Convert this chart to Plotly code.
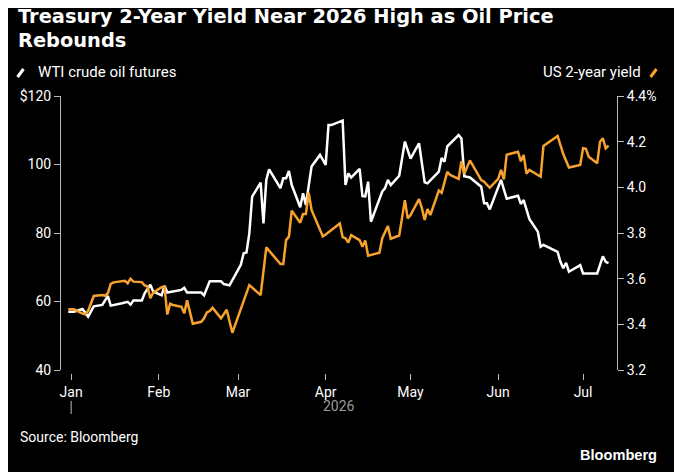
import plotly.graph_objects as go

# WTI crude oil futures, $/bbl
oil_dates = [
    "2025-12-31", "2026-01-02", "2026-01-05", "2026-01-07", "2026-01-09", "2026-01-12",
    "2026-01-14", "2026-01-15", "2026-01-19", "2026-01-21", "2026-01-22", "2026-01-23",
    "2026-01-26", "2026-01-27", "2026-01-29", "2026-01-30", "2026-02-02", "2026-02-03",
    "2026-02-04", "2026-02-09", "2026-02-10", "2026-02-11", "2026-02-16", "2026-02-17",
    "2026-02-19", "2026-02-23", "2026-02-24", "2026-02-26", "2026-03-02", "2026-03-03",
    "2026-03-04", "2026-03-05", "2026-03-06", "2026-03-09", "2026-03-10", "2026-03-11",
    "2026-03-12", "2026-03-16", "2026-03-17", "2026-03-18", "2026-03-19", "2026-03-20",
    "2026-03-23", "2026-03-24", "2026-03-25", "2026-03-27", "2026-03-30", "2026-04-01",
    "2026-04-02", "2026-04-03", "2026-04-07", "2026-04-08", "2026-04-09", "2026-04-10",
    "2026-04-13", "2026-04-14", "2026-04-15", "2026-04-16", "2026-04-17", "2026-04-21",
    "2026-04-22", "2026-04-23", "2026-04-24", "2026-04-27", "2026-04-29", "2026-05-01",
    "2026-05-04", "2026-05-06", "2026-05-07", "2026-05-11", "2026-05-12", "2026-05-13",
    "2026-05-14", "2026-05-18", "2026-05-19", "2026-05-20", "2026-05-22", "2026-05-26",
    "2026-05-27", "2026-05-28", "2026-05-29", "2026-06-02", "2026-06-04", "2026-06-08",
    "2026-06-09", "2026-06-10", "2026-06-12", "2026-06-15", "2026-06-16", "2026-06-17",
    "2026-06-22", "2026-06-23", "2026-06-24", "2026-06-25", "2026-06-26", "2026-06-30",
    "2026-07-01", "2026-07-06", "2026-07-08", "2026-07-09", "2026-07-10",
]
oil = [
    57.0, 57.0, 57.8, 55.6, 58.6, 59.0,
    61.6, 58.8, 59.5, 59.9, 59.1, 60.3,
    60.3, 62.4, 64.9, 62.9, 61.8, 64.6,
    62.6, 63.4, 64.0, 62.6, 62.6, 61.8,
    65.9, 65.9, 65.1, 64.7, 70.7, 74.1,
    74.3, 79.9, 90.6, 94.7, 82.8, 95.5,
    98.6, 93.1, 96.0, 96.0, 98.1, 94.0,
    87.5, 91.6, 88.2, 99.4, 102.8, 99.9,
    111.5, 111.5, 112.8, 94.0, 97.4, 96.2,
    98.7, 90.8, 90.7, 95.0, 83.3, 92.1,
    93.1, 95.5, 94.0, 96.7, 106.7, 101.7,
    106.2, 94.8, 94.5, 97.9, 101.9, 100.8,
    105.3, 108.6, 107.6, 96.6, 96.2, 93.5,
    88.7, 88.7, 86.9, 95.5, 90.0, 90.9,
    88.5, 89.6, 84.1, 80.4, 76.0, 76.5,
    74.5, 71.6, 69.7, 71.3, 68.7, 70.6,
    68.2, 68.2, 73.2, 71.6, 71.2,
]

# US 2-year Treasury yield, %
yield_dates = [
    "2025-12-31", "2026-01-02", "2026-01-05", "2026-01-06", "2026-01-07", "2026-01-09",
    "2026-01-12", "2026-01-13", "2026-01-14", "2026-01-15", "2026-01-16", "2026-01-19",
    "2026-01-20", "2026-01-21", "2026-01-22", "2026-01-23", "2026-01-26", "2026-01-27",
    "2026-01-28", "2026-01-29", "2026-01-30", "2026-02-02", "2026-02-03", "2026-02-04",
    "2026-02-05", "2026-02-06", "2026-02-09", "2026-02-10", "2026-02-11", "2026-02-13",
    "2026-02-16", "2026-02-17", "2026-02-18", "2026-02-19", "2026-02-20", "2026-02-23",
    "2026-02-25", "2026-02-27", "2026-03-05", "2026-03-09", "2026-03-11", "2026-03-16",
    "2026-03-17", "2026-03-18", "2026-03-19", "2026-03-20", "2026-03-23", "2026-03-24",
    "2026-03-25", "2026-03-26", "2026-03-27", "2026-03-31", "2026-04-01", "2026-04-06",
    "2026-04-07", "2026-04-08", "2026-04-09", "2026-04-10", "2026-04-13", "2026-04-14",
    "2026-04-15", "2026-04-16", "2026-04-20", "2026-04-21", "2026-04-23", "2026-04-24",
    "2026-04-27", "2026-04-29", "2026-04-30", "2026-05-01", "2026-05-04", "2026-05-05",
    "2026-05-06", "2026-05-07", "2026-05-08", "2026-05-11", "2026-05-12", "2026-05-14",
    "2026-05-15", "2026-05-18", "2026-05-19", "2026-05-20", "2026-05-22", "2026-05-26",
    "2026-05-27", "2026-05-29", "2026-06-01", "2026-06-02", "2026-06-03", "2026-06-04",
    "2026-06-08", "2026-06-09", "2026-06-10", "2026-06-11", "2026-06-12", "2026-06-15",
    "2026-06-16", "2026-06-17", "2026-06-22", "2026-06-24", "2026-06-26", "2026-06-30",
    "2026-07-01", "2026-07-02", "2026-07-03", "2026-07-06", "2026-07-07", "2026-07-08",
    "2026-07-09", "2026-07-10",
]
us2y = [
    3.466, 3.466, 3.447, 3.444, 3.459, 3.524,
    3.528, 3.525, 3.536, 3.577, 3.584, 3.588,
    3.591, 3.580, 3.600, 3.587, 3.585, 3.570,
    3.566, 3.514, 3.539, 3.563, 3.566, 3.443,
    3.490, 3.485, 3.477, 3.448, 3.505, 3.403,
    3.411, 3.426, 3.452, 3.458, 3.473, 3.426,
    3.464, 3.363, 3.572, 3.528, 3.737, 3.664,
    3.664, 3.769, 3.784, 3.898, 3.845, 3.883,
    3.883, 3.977, 3.901, 3.785, 3.793, 3.842,
    3.782, 3.777, 3.758, 3.791, 3.769, 3.740,
    3.767, 3.701, 3.714, 3.777, 3.831, 3.775,
    3.789, 3.944, 3.864, 3.879, 3.948, 3.909,
    3.857, 3.905, 3.879, 3.986, 3.976, 4.068,
    4.054, 4.037, 4.115, 4.059, 4.118, 4.032,
    4.025, 3.998, 4.037, 4.077, 4.035, 4.143,
    4.156, 4.114, 4.142, 4.060, 4.076, 4.054,
    4.047, 4.181, 4.225, 4.146, 4.087, 4.098,
    4.171, 4.169, 4.134, 4.105, 4.200, 4.215,
    4.171, 4.183,
]

oil_ticks = [40, 60, 80, 100, 120]
oil_labels = ["40", "60", "80", "100", "$120"]
yield_ticks = [3.2, 3.4, 3.6, 3.8, 4.0, 4.2, 4.4]
yield_labels = ["3.2", "3.4", "3.6", "3.8", "4.0", "4.2", "4.4%"]

title_lines = ["Treasury 2-Year Yield Near 2026 High as Oil Price", "Rebounds"]

ORANGE = "#f7a12e"
NARROW = "Roboto, sans-serif"
TITLE_FONT = "DejaVu Sans, Verdana, sans-serif"

# the page body keeps an 8px margin, so the figure is 8px smaller than the window
W, H = 674, 464

fig = go.Figure()
fig.add_trace(go.Scatter(x=oil_dates, y=oil, mode="lines", name="WTI crude oil futures",
                         line=dict(color="white", width=2.5), yaxis="y"))
fig.add_trace(go.Scatter(x=yield_dates, y=us2y, mode="lines", name="US 2-year yield",
                         line=dict(color=ORANGE, width=2.5), yaxis="y2"))

fig.update_layout(
    width=W, height=H,
    paper_bgcolor="black", plot_bgcolor="black",
    margin=dict(l=46, r=65, t=88, b=99),
    showlegend=False,
    font=dict(family=NARROW, size=14, color="white"),
    xaxis=dict(type="date", range=["2025-12-28 10:00", "2026-07-13"],
               tick0="2026-01-01", dtick="M1", tickformat="%b",
               ticks="outside", ticklen=6, tickcolor="#bbbbbb", showline=False,
               showgrid=False, zeroline=False, anchor="free", position=0,
               tickfont=dict(family=NARROW, size=14, color="white")),
    yaxis=dict(range=[40, 120], tickvals=oil_ticks, ticktext=oil_labels,
               domain=[0.0108, 1], ticks="outside", ticklen=6, tickcolor="#bbbbbb",
               showline=True, linecolor="#bbbbbb", linewidth=1,
               showgrid=False, zeroline=False,
               tickfont=dict(family=NARROW, size=14, color="white")),
    yaxis2=dict(range=[3.2, 4.4], tickvals=yield_ticks, ticktext=yield_labels,
                overlaying="y", side="right", ticks="outside", ticklen=6,
                tickcolor="#bbbbbb", showline=True, linecolor="#bbbbbb", linewidth=1,
                showgrid=False, zeroline=False,
                tickfont=dict(family=NARROW, size=14, color="white")),
)

# title, one annotation per line
for i, line in enumerate(title_lines):
    fig.add_annotation(text="<b>" + line + "</b>", xref="paper", yref="paper",
                       x=(8 - 54) / 563, y=(373 - 17 - 23 * i) / 277,
                       xanchor="left", yanchor="middle", showarrow=False,
                       font=dict(family=TITLE_FONT, size=19.4, color="white"))

# legend-like labels
fig.add_annotation(text="WTI crude oil futures", xref="paper", yref="paper",
                   x=-0.0444, y=1.0866, xanchor="left", yanchor="middle", showarrow=False,
                   font=dict(family=NARROW, size=15, color="white"))
fig.add_annotation(text="US 2-year yield", xref="paper", yref="paper",
                   x=1.0462, y=1.0866, xanchor="right", yanchor="middle", showarrow=False,
                   font=dict(family=NARROW, size=15, color="white"))
fig.add_shape(type="line", xref="paper", yref="paper",
              x0=(10 - 54) / 563, x1=(16 - 54) / 563, y0=(373 - 77) / 277, y1=(373 - 69) / 277,
              line=dict(color="white", width=3))
fig.add_shape(type="line", xref="paper", yref="paper",
              x0=(651 - 54) / 563, x1=(657 - 54) / 563, y0=(373 - 77) / 277, y1=(373 - 69) / 277,
              line=dict(color=ORANGE, width=3))

# year label and its tick
fig.add_annotation(text="2026", xref="paper", yref="paper", x=0.5, y=-0.119,
                   xanchor="center", yanchor="middle", showarrow=False,
                   font=dict(family=NARROW, size=14, color="#9a9a9a"))
fig.add_shape(type="line", xref="x", yref="paper", x0="2026-01-01", x1="2026-01-01",
              y0=-0.101, y1=-0.148, line=dict(color="#bbbbbb", width=1))

fig.add_annotation(text="Source: Bloomberg", xref="paper", yref="paper",
                   x=(10 - 54) / 563, y=-0.231, xanchor="left", yanchor="middle",
                   showarrow=False, font=dict(family=NARROW, size=14, color="white"))
fig.add_annotation(text="<b>Bloomberg</b>", xref="paper", yref="paper",
                   x=(660 - 54) / 563, y=-0.296, xanchor="right", yanchor="middle",
                   showarrow=False,
                   font=dict(family="Liberation Sans, Arial, sans-serif", size=14.6, color="white"))

fig.write_html("out.html")
